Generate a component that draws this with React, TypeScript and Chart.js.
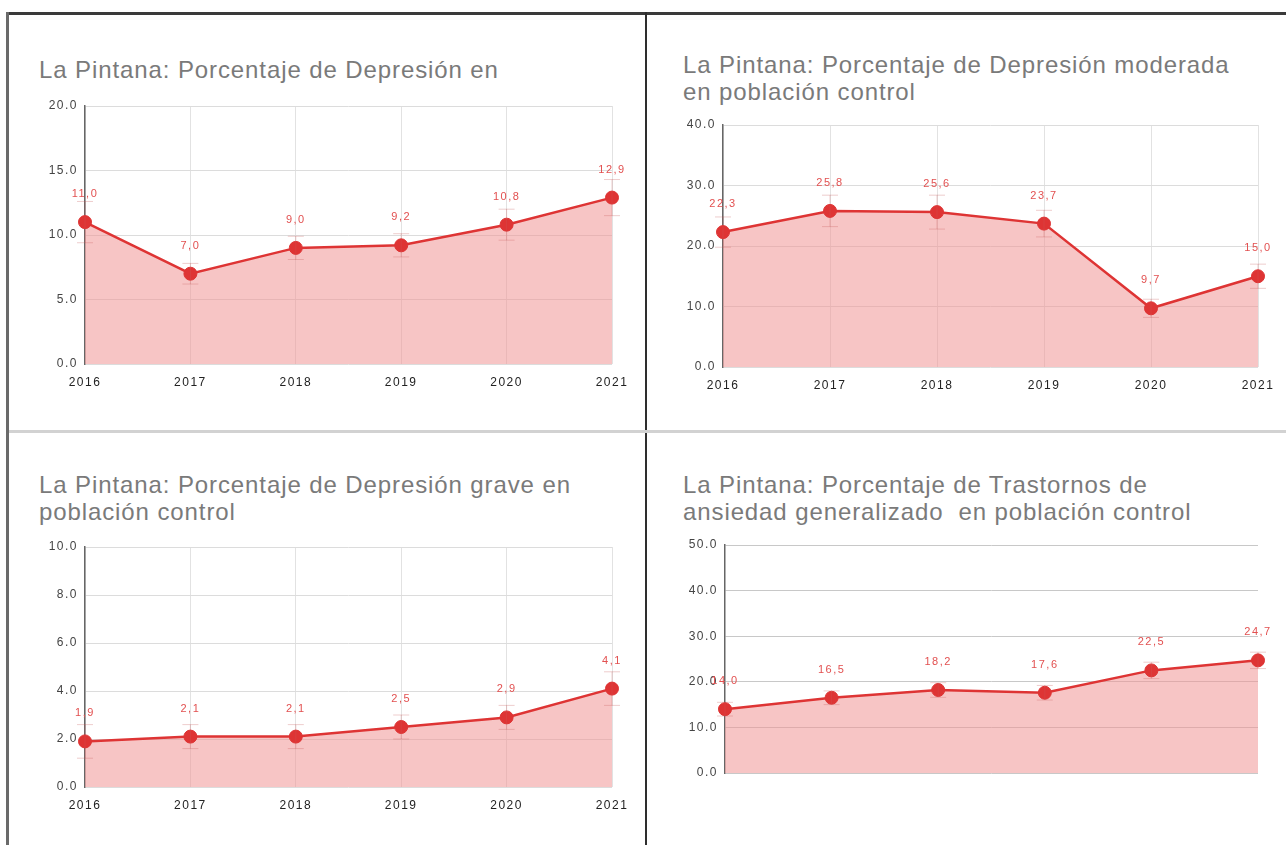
import React, { useEffect, useRef } from "react";
import { Chart, registerables } from "chart.js";

Chart.register(...registerables);

// ---------------- DATA ----------------
const years = ["2016", "2017", "2018", "2019", "2020", "2021"];

const titleDepresion = ["La Pintana: Porcentaje de Depresión en"];
const titleModerada = ["La Pintana: Porcentaje de Depresión moderada", "en población control"];
const titleGrave = ["La Pintana: Porcentaje de Depresión grave en", "población control"];
const titleAnsiedad = ["La Pintana: Porcentaje de Trastornos de", "ansiedad generalizado  en población control"];

const depresion = [11.0, 7.0, 9.0, 9.2, 10.8, 12.9];
const depresionLow = [9.4, 6.2, 8.1, 8.3, 9.6, 11.5];
const depresionHigh = [12.6, 7.8, 9.9, 10.1, 12.0, 14.3];

const moderada = [22.3, 25.8, 25.6, 23.7, 9.7, 15.0];
const moderadaLow = [19.8, 23.2, 22.8, 21.5, 8.2, 13.0];
const moderadaHigh = [24.8, 28.4, 28.4, 25.9, 11.2, 17.0];

const grave = [1.9, 2.1, 2.1, 2.5, 2.9, 4.1];
const graveLow = [1.2, 1.6, 1.6, 2.0, 2.4, 3.4];
const graveHigh = [2.6, 2.6, 2.6, 3.0, 3.4, 4.8];

const ansiedad = [14.0, 16.5, 18.2, 17.6, 22.5, 24.7];
const ansiedadLow = [12.5, 15.0, 16.6, 16.0, 20.7, 22.9];
const ansiedadHigh = [15.5, 18.0, 19.8, 19.2, 24.3, 26.5];

const yMaxDepresion = 20;
const yStepDepresion = 5;
const yMaxModerada = 40;
const yStepModerada = 10;
const yMaxGrave = 10;
const yStepGrave = 2;
const yMaxAnsiedad = 50;
const yStepAnsiedad = 10;

// ---------------- STYLE ----------------
const FONT = "'Liberation Sans', Arial, sans-serif";
const RED = "rgb(222, 52, 52)";
const FILL = "rgba(240, 150, 150, 0.55)";

const fmtLabel = (v: number) => v.toFixed(1).replace(".", ",");

const spacingPlugin = {
  id: "letterSpacing",
  beforeLayout(chart: any) {
    (chart.ctx as any).letterSpacing = "1.5px";
  },
  beforeDraw(chart: any) {
    (chart.ctx as any).letterSpacing = "1.5px";
  },
};

const errorBarsPlugin = {
  id: "errorBars",
  afterDatasetsDraw(chart: any, _args: any, opts: any) {
    if (!opts || !opts.low) return;
    const ctx = chart.ctx;
    const meta = chart.getDatasetMeta(0);
    const ys = chart.scales.y;
    ctx.save();
    ctx.strokeStyle = "rgba(200, 90, 90, 0.3)";
    ctx.lineWidth = 1;
    meta.data.forEach((pt: any, i: number) => {
      const x = pt.x;
      const yl = ys.getPixelForValue(opts.low[i]);
      const yh = ys.getPixelForValue(opts.high[i]);
      ctx.beginPath();
      ctx.moveTo(x, yl);
      ctx.lineTo(x, yh);
      ctx.moveTo(x - 8, yl);
      ctx.lineTo(x + 8, yl);
      ctx.moveTo(x - 8, yh);
      ctx.lineTo(x + 8, yh);
      ctx.stroke();
    });
    ctx.restore();
  },
};

const valueLabelsPlugin = {
  id: "valueLabels",
  afterDraw(chart: any) {
    const ctx = chart.ctx;
    const meta = chart.getDatasetMeta(0);
    const data = chart.data.datasets[0].data as number[];
    ctx.save();
    ctx.font = `11px ${FONT}`;
    ctx.fillStyle = "rgb(226, 80, 80)";
    ctx.textAlign = "center";
    ctx.textBaseline = "middle";
    meta.data.forEach((pt: any, i: number) => {
      ctx.fillText(fmtLabel(data[i]), pt.x, pt.y - 28);
    });
    ctx.restore();
  },
};

type PanelProps = {
  left: number;
  top: number;
  width: number;
  height: number;
  title: string[];
  titleLeft: number;
  titleTop: number;
  values: number[];
  low: number[];
  high: number[];
  yMax: number;
  yStep: number;
  padLeft: number;
  padRight: number;
  padTop: number;
  padBottom: number;
  yAxisWidth: number;
  showX: boolean;
  vGrid: boolean;
  hGridColor: string;
};

function Panel(p: PanelProps) {
  const ref = useRef<HTMLCanvasElement | null>(null);
  useEffect(() => {
    if (!ref.current) return;
    const chart = new Chart(ref.current, {
      type: "line",
      data: {
        labels: years,
        datasets: [
          {
            data: p.values,
            borderColor: RED,
            backgroundColor: FILL,
            borderWidth: 2.5,
            fill: "origin",
            tension: 0,
            pointRadius: 6.5,
            pointBackgroundColor: RED,
            pointBorderColor: RED,
            pointBorderWidth: 1,
          },
        ],
      },
      options: {
        animation: false,
        responsive: false,
        maintainAspectRatio: false,
        layout: {
          padding: { left: p.padLeft, right: p.padRight, top: p.padTop, bottom: p.padBottom },
        },
        plugins: {
          legend: { display: false },
          tooltip: { enabled: false },
          title: { display: false },
          errorBars: { low: p.low, high: p.high },
        } as any,
        scales: {
          x: {
            display: p.showX,
            offset: false,
            grid: { display: p.vGrid, color: "#e2e2e2", lineWidth: 1, drawTicks: false },
            border: { display: false },
            ticks: { color: "#222", font: { family: FONT, size: 12 }, padding: 11, maxRotation: 0, autoSkip: false },
            afterFit: (s: any) => {
              s.height = 30;
            },
          },
          y: {
            min: 0,
            max: p.yMax,
            grid: { color: p.hGridColor, lineWidth: 1, drawTicks: false },
            border: { display: true, color: "#666", width: 1.5 },
            ticks: {
              stepSize: p.yStep,
              color: "#444",
              font: { family: FONT, size: 12 },
              padding: 7,
              callback: (v: any) => Number(v).toFixed(1),
            },
            afterFit: (s: any) => {
              s.width = p.yAxisWidth;
            },
          },
        },
      } as any,
      plugins: [spacingPlugin, errorBarsPlugin, valueLabelsPlugin],
    });
    return () => chart.destroy();
  }, []);
  return (
    <>
      <div
        style={{
          position: "absolute",
          left: p.titleLeft,
          top: p.titleTop,
          fontFamily: FONT,
          fontSize: 24,
          lineHeight: "27px",
          letterSpacing: "0.9px",
          color: "#7a7a7a",
          whiteSpace: "pre",
        }}
      >
        {p.title.map((t, i) => (
          <div key={i}>{t}</div>
        ))}
      </div>
      <canvas
        ref={ref}
        width={p.width}
        height={p.height}
        style={{ position: "absolute", left: p.left, top: p.top, width: p.width, height: p.height }}
      />
    </>
  );
}

export default function App() {
  return (
    <div style={{ position: "absolute", left: 0, top: 0, width: 1286, height: 845, background: "#fff", overflow: "hidden" }}>
      {/* frame lines */}
      <div style={{ position: "absolute", left: 6, top: 12, width: 1280, height: 3, background: "#3a3a3a" }} />
      <div style={{ position: "absolute", left: 6, top: 12, width: 3, height: 833, background: "#6a6a6a" }} />
      <div style={{ position: "absolute", left: 645, top: 12, width: 2, height: 833, background: "#2e2e2e" }} />
      <div style={{ position: "absolute", left: 9, top: 430, width: 1277, height: 3, background: "#d2d2d2" }} />

      <Panel
        left={10} top={16} width={634} height={412}
        title={titleDepresion} titleLeft={39} titleTop={56}
        values={depresion} low={depresionLow} high={depresionHigh}
        yMax={yMaxDepresion} yStep={yStepDepresion}
        padLeft={32} padRight={32} padTop={90} padBottom={34}
        yAxisWidth={43} showX={true} vGrid={true} hGridColor="#dcdcdc"
      />
      <Panel
        left={648} top={16} width={638} height={412}
        title={titleModerada} titleLeft={683} titleTop={51}
        values={moderada} low={moderadaLow} high={moderadaHigh}
        yMax={yMaxModerada} yStep={yStepModerada}
        padLeft={37} padRight={28} padTop={109} padBottom={31}
        yAxisWidth={38} showX={true} vGrid={true} hGridColor="#dcdcdc"
      />
      <Panel
        left={10} top={435} width={634} height={410}
        title={titleGrave} titleLeft={39} titleTop={471}
        values={grave} low={graveLow} high={graveHigh}
        yMax={yMaxGrave} yStep={yStepGrave}
        padLeft={32} padRight={32} padTop={112} padBottom={28}
        yAxisWidth={43} showX={true} vGrid={true} hGridColor="#dcdcdc"
      />
      <Panel
        left={648} top={435} width={638} height={410}
        title={titleAnsiedad} titleLeft={683} titleTop={471}
        values={ansiedad} low={ansiedadLow} high={ansiedadHigh}
        yMax={yMaxAnsiedad} yStep={yStepAnsiedad}
        padLeft={37} padRight={28} padTop={110} padBottom={42}
        yAxisWidth={40} showX={false} vGrid={false} hGridColor="#c8c8c8"
      />
    </div>
  );
}
